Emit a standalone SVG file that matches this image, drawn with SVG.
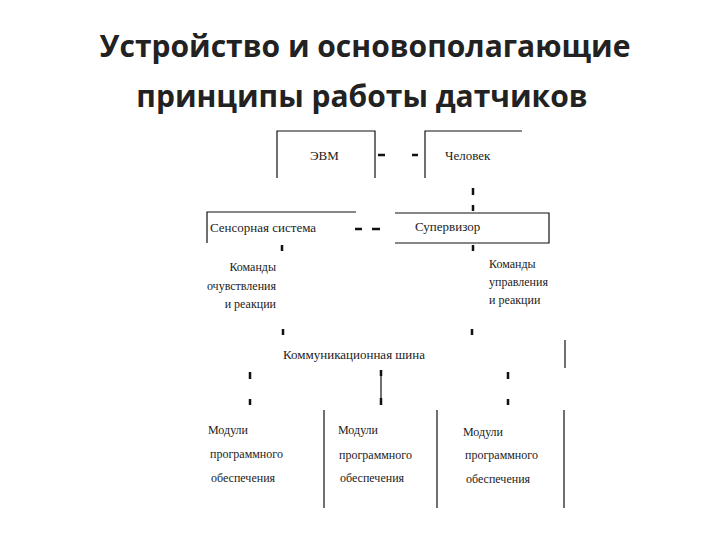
<svg xmlns="http://www.w3.org/2000/svg" width="720" height="540" viewBox="0 0 720 540">
<style>
.t{font-family:"Open Sans",sans-serif;font-weight:bold;font-size:30px;fill:#222;text-anchor:middle}
.s{font-family:"Liberation Serif",serif;font-size:13px;fill:#222}
.m{font-family:"Liberation Serif",serif;font-size:12px;fill:#222}
.l{stroke:#111;stroke-width:1.2;fill:none}
.a{stroke:#111;stroke-width:2.5;fill:none}
</style>
<rect width="720" height="540" fill="#fff"/>
<text class="t" x="365" y="57">Устройство и основополагающие</text>
<text class="t" x="362" y="107">принципы работы датчиков</text>
<g id="evm"><path class="l" d="M277 178V131H375V178"/><text class="s" x="310" y="160" font-size="14">ЭВМ</text></g>
<g id="chelovek"><path class="l" d="M425 178V131H522"/><text class="s" x="445" y="160" font-size="14">Человек</text></g>
<g id="sensor"><path class="l" d="M207 243V212H356"/><text class="s" x="210" y="232" font-size="12">Сенсорная система</text></g>
<g id="supervisor"><path class="l" d="M395 213H549V243H395"/><text class="s" x="415" y="231" font-size="12">Супервизор</text></g>
<g id="cmd1"><text class="m" text-anchor="end" x="276" y="271">Команды</text><text class="m" text-anchor="end" x="276" y="290">очувствления</text><text class="m" text-anchor="end" x="276" y="308">и реакции</text></g>
<g id="cmd2"><text class="m" x="489" y="268">Команды</text><text class="m" x="489" y="286">управления</text><text class="m" x="489" y="304">и реакции</text></g>
<g id="bus"><path class="l" d="M565 340V368"/><text class="s" x="283" y="359" font-size="16">Коммуникационная шина</text></g>
<g id="mod1"><text class="m" x="208" y="434">Модули</text><text class="m" x="210" y="458">программного</text><text class="m" x="211" y="482">обеспечения</text></g>
<g id="mod2"><path class="l" d="M324 410V508"/><text class="m" x="338" y="434">Модули</text><text class="m" x="339" y="459">программного</text><text class="m" x="340" y="482">обеспечения</text></g>
<g id="mod3"><path class="l" d="M437 410V508M564 410V508"/><text class="m" x="463" y="436">Модули</text><text class="m" x="465" y="459">программного</text><text class="m" x="466" y="483">обеспечения</text></g>
<g id="connectors">
<path class="a" d="M378 155H385M412 155H418M473 188V195M473 205V211M355 229H362M372 229H380M282 245V251M473 245V251M283 329V335M472 329V335M250 372V379M250 399V405M508 372V379M508 399V405M381 370V376M381 398V405"/>
<path class="l" d="M381 372V404"/>
</g>
</svg>
